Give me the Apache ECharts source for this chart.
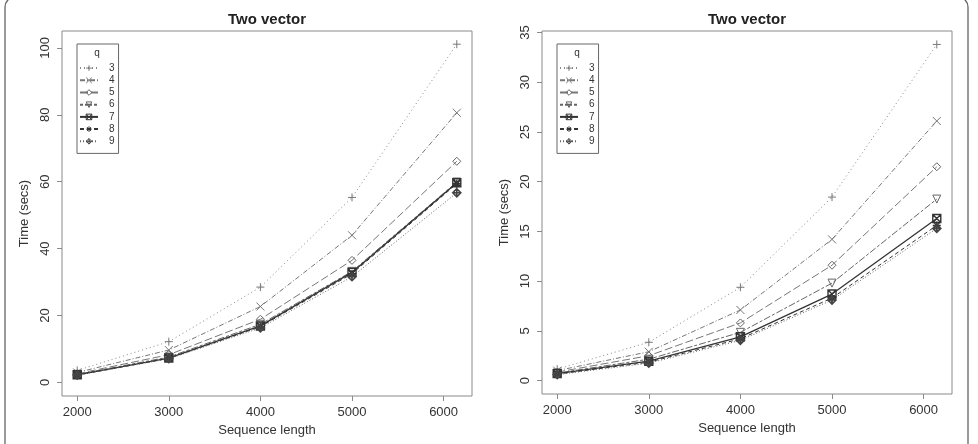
<!DOCTYPE html>
<html>
<head>
<meta charset="utf-8">
<script src="https://cdn.jsdelivr.net/npm/echarts@6/dist/echarts.min.js"></script>
<style>
  html, body { margin: 0; padding: 0; background: #fff; }
  #chart { width: 978px; height: 444px; }
</style>
</head>
<body>
<div id="chart"></div>
<script>
const xValues = [2000, 3000, 4000, 5000, 6144]
const xTicks = [2000, 3000, 4000, 5000, 6000]
const qLabels = ['3', '4', '5', '6', '7', '8', '9']

// left panel, time in seconds per q
const leftQ3 = [3.6, 12.2, 28.5, 55.3, 101.1]
const leftQ4 = [3.0, 9.7, 22.7, 44.0, 80.6]
const leftQ5 = [2.6, 8.3, 18.9, 36.5, 66.1]
const leftQ6 = [2.4, 7.6, 17.4, 33.2, 59.9]
const leftQ7 = [2.3, 7.3, 16.9, 32.9, 59.7]
const leftQ8 = [2.2, 7.2, 16.7, 32.5, 59.4]
const leftQ9 = [2.2, 7.1, 16.3, 31.6, 56.7]
const leftTicks = [0, 20, 40, 60, 80, 100]

// right panel
const rightQ3 = [1.15, 3.85, 9.38, 18.45, 33.8]
const rightQ4 = [1.0, 2.9, 7.1, 14.2, 26.1]
const rightQ5 = [0.85, 2.5, 5.8, 11.6, 21.5]
const rightQ6 = [0.75, 2.15, 4.85, 9.8, 18.25]
const rightQ7 = [0.7, 1.95, 4.4, 8.7, 16.3]
const rightQ8 = [0.65, 1.85, 4.2, 8.3, 15.6]
const rightQ9 = [0.6, 1.75, 4.05, 8.1, 15.3]
const rightTicks = [0, 5, 10, 15, 20, 25, 30, 35]

const leftSets = [leftQ3, leftQ4, leftQ5, leftQ6, leftQ7, leftQ8, leftQ9]
const rightSets = [rightQ3, rightQ4, rightQ5, rightQ6, rightQ7, rightQ8, rightQ9]

const FONT = '"Liberation Sans", Arial, Helvetica, sans-serif'
const BOX = '#8a8a8a'
const TEXT = '#333'

// R style plotting symbols (pch 3..9), stroked only
const SYMBOLS = [
  'path://M5,0L5,10M0,5L10,5',
  'path://M0,0L10,10M10,0L0,10',
  'path://M5,0L10,5L5,10L0,5Z',
  'path://M0,0L10,0L5,9Z',
  'path://M0,0L10,0L10,10L0,10ZM0,0L10,10M10,0L0,10',
  'path://M5,0L5,10M0,5L10,5M1.5,1.5L8.5,8.5M8.5,1.5L1.5,8.5',
  'path://M5,0L10,5L5,10L0,5ZM5,0L5,10M0,5L10,5'
]
const LINES = [
  { type: [1, 3], color: '#888', width: 1 },
  { type: [5, 2, 1, 2], color: '#777', width: 1 },
  { type: [8, 3], color: '#777', width: 1 },
  { type: [3, 2, 7, 2], color: '#666', width: 1 },
  { type: 'solid', color: '#333', width: 1.3 },
  { type: [4, 3], color: '#333', width: 1 },
  { type: [1, 2], color: '#666', width: 1 }
]
const SYM_COLORS = ['#777', '#777', '#666', '#666', '#333', '#333', '#444']
const SYM_WIDTH = [1, 1, 1, 1, 1.4, 1.4, 1.6]

function makeSeries (sets, idx) {
  return sets.map((vals, i) => ({
    name: qLabels[i],
    type: 'line',
    xAxisIndex: idx,
    yAxisIndex: idx,
    data: vals.map((v, j) => [xValues[j], v]),
    symbol: SYMBOLS[i],
    symbolSize: 8,
    showAllSymbol: true,
    lineStyle: LINES[i],
    itemStyle: { color: 'rgba(255,255,255,0)', borderColor: SYM_COLORS[i], borderWidth: SYM_WIDTH[i] },
    emphasis: { disabled: true },
    animation: false
  }))
}

function xAxis (idx) {
  return {
    type: 'value', gridIndex: idx, min: 1834, max: 6310,
    name: 'Sequence length', nameLocation: 'middle', nameGap: 28,
    nameTextStyle: { fontFamily: FONT, fontSize: 13, color: TEXT },
    axisLine: { show: false, onZero: false },
    axisTick: { show: true, length: 5, customValues: xTicks, lineStyle: { color: BOX } },
    axisLabel: { customValues: xTicks, formatter: v => String(v), margin: 10, fontFamily: FONT, fontSize: 13, color: TEXT },
    splitLine: { show: false }
  }
}

function yAxis (idx, min, max, ticks) {
  return {
    type: 'value', gridIndex: idx, min, max,
    name: 'Time (secs)', nameLocation: 'middle', nameGap: 31,
    nameTextStyle: { fontFamily: FONT, fontSize: 13, color: TEXT },
    axisLine: { show: false, onZero: false },
    axisTick: { show: true, length: 5, customValues: ticks, lineStyle: { color: BOX } },
    axisLabel: { customValues: ticks, formatter: v => String(v), rotate: 90, margin: 10, fontFamily: FONT, fontSize: 13, color: TEXT },
    splitLine: { show: false }
  }
}

function legend (left) {
  return {
    data: qLabels,
    orient: 'vertical',
    left, top: 44,
    padding: [18, 4, 6, 2],
    itemWidth: 18, itemHeight: 7, itemGap: 0,
    borderColor: '#666', borderWidth: 1,
    selectedMode: false,
    itemStyle: { borderWidth: 1 },
    textStyle: { fontFamily: FONT, fontSize: 10, color: TEXT, lineHeight: 12.2, padding: [0, 0, 0, 6] }
  }
}

function titleText (x, text) {
  return { type: 'text', x, y: 20, style: { text, fontFamily: FONT, fontSize: 15, fontWeight: 'bold', fill: '#222', align: 'center', verticalAlign: 'middle' } }
}
function qText (x) {
  return { type: 'text', x, y: 53, style: { text: 'q', fontFamily: FONT, fontSize: 10, fill: TEXT, align: 'center', verticalAlign: 'middle' } }
}

const chart = echarts.init(document.getElementById('chart'), null, { renderer: 'canvas' })
chart.setOption({
  backgroundColor: '#fff',
  animation: false,
  grid: [
    { left: 62, right: 506, top: 31, bottom: 48, show: true, borderColor: BOX, borderWidth: 1 },
    { left: 542, right: 26, top: 31, bottom: 50, show: true, borderColor: BOX, borderWidth: 1 }
  ],
  xAxis: [xAxis(0), xAxis(1)],
  yAxis: [yAxis(0, -4.04, 105.04, leftTicks), yAxis(1, -1.35, 35.15, rightTicks)],
  legend: [legend(77), legend(557)],
  graphic: [
    { type: 'rect', shape: { x: 5, y: -3, width: 963, height: 500, r: 10 }, style: { fill: 'none', stroke: '#666', lineWidth: 1.3 }, silent: true },
    titleText(267, 'Two vector'),
    titleText(747, 'Two vector'),
    qText(97),
    qText(577)
  ],
  series: [...makeSeries(leftSets, 0), ...makeSeries(rightSets, 1)]
})
</script>
</body>
</html>
